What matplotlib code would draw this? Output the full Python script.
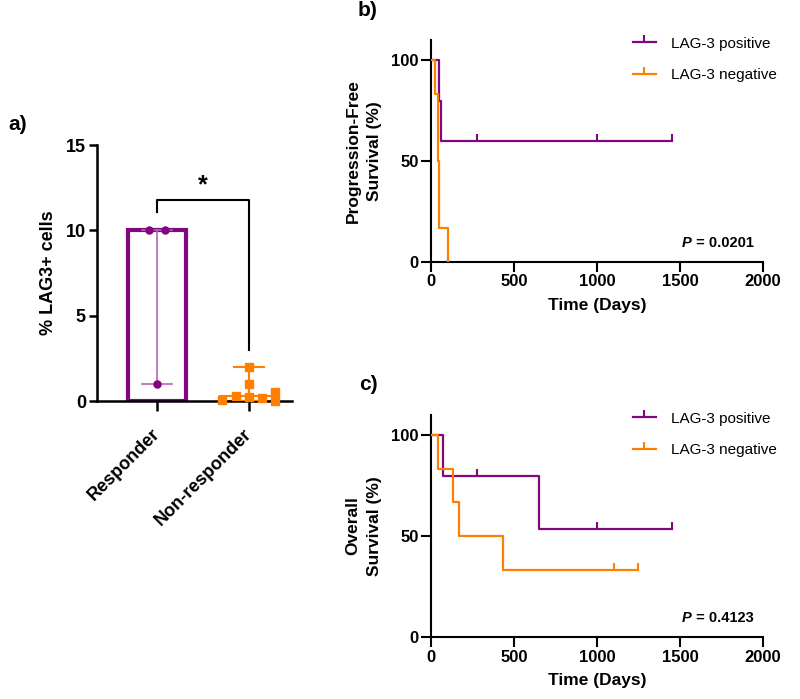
import matplotlib
matplotlib.use("Agg")
import matplotlib.pyplot as plt
from matplotlib.lines import Line2D
import numpy as np

plt.rcParams['font.family'] = ['Liberation Sans', 'DejaVu Sans']

PURPLE = '#80077f'
LPURPLE = '#b565b5'
ORANGE = '#ff8000'

# ---------------- data ----------------
groups = ['Responder', 'Non-responder']
resp_vals = [10, 10, 1]
resp_offsets = [-0.09, 0.09, 0.0]
nonresp_vals = [0.05, 0.3, 2.0, 1.0, 0.25, 0.2, 0.5, 0.0]
nonresp_offsets = [-0.29, -0.14, 0.0, 0.0, 0.0, 0.14, 0.29, 0.29]

# Progression-free survival
pfs_pos_t = [0, 50, 58, 1450]
pfs_pos_s = [100, 80, 60, 60]
pfs_pos_cens_t = [280, 1000, 1450]
pfs_pos_cens_s = [60, 60, 60]
pfs_neg_t = [0, 24, 40, 44, 47, 50, 100]
pfs_neg_s = [100, 83.3, 66.7, 50, 33.3, 16.7, 0]

# Overall survival
os_pos_t = [0, 72, 650, 1450]
os_pos_s = [100, 80, 53.3, 53.3]
os_pos_cens_t = [280, 1000, 1450]
os_pos_cens_s = [80, 53.3, 53.3]
os_neg_t = [0, 42, 130, 170, 435, 1250]
os_neg_s = [100, 83.3, 66.7, 50, 33.3, 33.3]
os_neg_cens_t = [1100, 1250]
os_neg_cens_s = [33.3, 33.3]

series_labels = ['LAG-3 positive', 'LAG-3 negative']
p_values = ['0.0201', '0.4123']

W, H = 800, 699
fig = plt.figure(figsize=(W / 100, H / 100), dpi=100)


def box(l, t, r, b):
    return [l / W, 1 - b / H, (r - l) / W, (b - t) / H]


# ---------------- panel a ----------------
axa = fig.add_axes(box(97, 145, 292, 401))
xpos = np.arange(len(groups))
axa.bar(0, np.median(resp_vals), width=0.63, facecolor='white', edgecolor=PURPLE,
        linewidth=3, zorder=2)
axa.bar(1, np.median(nonresp_vals), width=0.63, facecolor='white', edgecolor=ORANGE,
        linewidth=1.5, zorder=2)
# range error bars
for x, vals, col, lw in [(0, resp_vals, LPURPLE, 1.2), (1, nonresp_vals, ORANGE, 1.5)]:
    lo, hi = min(vals), max(vals)
    axa.plot([x, x], [lo, hi], color=col, lw=lw, zorder=3)
    for yv in (lo, hi):
        axa.plot([x - 0.16, x + 0.16], [yv, yv], color=col, lw=lw, zorder=3)
axa.scatter([0 + o for o in resp_offsets], resp_vals, s=26, color=PURPLE, marker='o',
            zorder=5, clip_on=False)
axa.scatter([1 + o for o in nonresp_offsets], nonresp_vals, s=30, color=ORANGE, marker='s',
            zorder=5, clip_on=False)
# significance bracket
axa.plot([0, 0, 1, 1], [11.05, 11.8, 11.8, 3.0], color='black', lw=1.5, zorder=4,
         clip_on=False)
axa.text(0.5, 11.95, '*', ha='center', va='bottom', fontsize=18, fontweight='bold')

axa.set_xlim(-0.652, 1.47)
axa.set_ylim(0, 15)
axa.set_yticks([0, 5, 10, 15])
axa.set_xticks(xpos)
axa.set_xticklabels(groups, rotation=45, ha='right', va='center', rotation_mode='anchor',
                    fontsize=13, fontweight='bold')
for lab in axa.get_yticklabels():
    lab.set_fontsize(13)
    lab.set_fontweight('bold')
axa.tick_params(axis='y', length=6, width=1.8, pad=2)
axa.tick_params(axis='x', length=7, width=1.8, pad=15)
for s in ['top', 'right']:
    axa.spines[s].set_visible(False)
for s in ['left', 'bottom']:
    axa.spines[s].set_linewidth(1.8)
axa.set_ylabel('% LAG3+ cells', fontsize=13, fontweight='bold', labelpad=6)
fig.text(18 / W, 1 - 125 / H, 'a)', fontsize=15, fontweight='bold', va='center', ha='center')


# ---------------- panels b, c ----------------
def km_panel(rect, pos_t, pos_s, pos_ct, pos_cs, neg_t, neg_s, neg_ct, neg_cs,
             ylabel_lines, pval, letter, letter_y, center_y):
    ax = fig.add_axes(rect)
    ax.step(pos_t, pos_s, where='post', color=PURPLE, lw=1.6, zorder=3)
    ax.step(neg_t, neg_s, where='post', color=ORANGE, lw=1.6, zorder=3)
    ax.plot(pos_ct, pos_cs, ls='none', marker=2, ms=5, mew=1.5, color=PURPLE, zorder=3)
    if neg_ct:
        ax.plot(neg_ct, neg_cs, ls='none', marker=2, ms=5, mew=1.5, color=ORANGE, zorder=3)
    ax.set_xlim(0, 2000)
    ax.set_ylim(0, 110)
    ax.set_xticks([0, 500, 1000, 1500, 2000])
    ax.set_yticks([0, 50, 100])
    for lab in ax.get_xticklabels() + ax.get_yticklabels():
        lab.set_fontsize(12)
        lab.set_fontweight('bold')
    ax.tick_params(length=7, width=1.5, pad=2)
    for s in ['top', 'right']:
        ax.spines[s].set_visible(False)
    for s in ['left', 'bottom']:
        ax.spines[s].set_linewidth(1.5)
    ax.set_xlabel('Time (Days)', fontsize=12.5, fontweight='bold', labelpad=6)
    for xpix, line in zip([353, 374], ylabel_lines):
        fig.text(xpix / W, 1 - center_y / H, line, rotation=90, ha='center', va='center',
                 fontsize=12.5, fontweight='bold')
    handles = [Line2D([], [], color=PURPLE, lw=1.6, marker=2, ms=5, mew=1.5),
               Line2D([], [], color=ORANGE, lw=1.6, marker=2, ms=5, mew=1.5)]
    ax.legend(handles, series_labels, loc='upper left', bbox_to_anchor=(0.608, 1.015),
              frameon=False, fontsize=11, handlelength=1.5, handletextpad=1.0,
              labelspacing=1.15, borderpad=0, borderaxespad=0, numpoints=1)
    ax.text(0.785, 0.086, 'P', transform=ax.transAxes, ha='right', va='center',
            fontsize=10.5, fontweight='bold', fontstyle='italic')
    ax.text(0.785, 0.086, ' = ' + pval, transform=ax.transAxes, ha='left', va='center',
            fontsize=10.5, fontweight='bold')
    fig.text(368 / W, 1 - letter_y / H, letter, fontsize=15, fontweight='bold',
             va='center', ha='center')
    return ax


km_panel(box(431, 40, 763, 262), pfs_pos_t, pfs_pos_s, pfs_pos_cens_t, pfs_pos_cens_s,
         pfs_neg_t, pfs_neg_s, [], [], ['Progression-Free', 'Survival (%)'], p_values[0],
         'b)', 10, 151)
km_panel(box(431, 415, 763, 637), os_pos_t, os_pos_s, os_pos_cens_t, os_pos_cens_s,
         os_neg_t, os_neg_s, os_neg_cens_t, os_neg_cens_s, ['Overall', 'Survival (%)'],
         p_values[1], 'c)', 385, 526)

fig.savefig('out.png', dpi=100)
